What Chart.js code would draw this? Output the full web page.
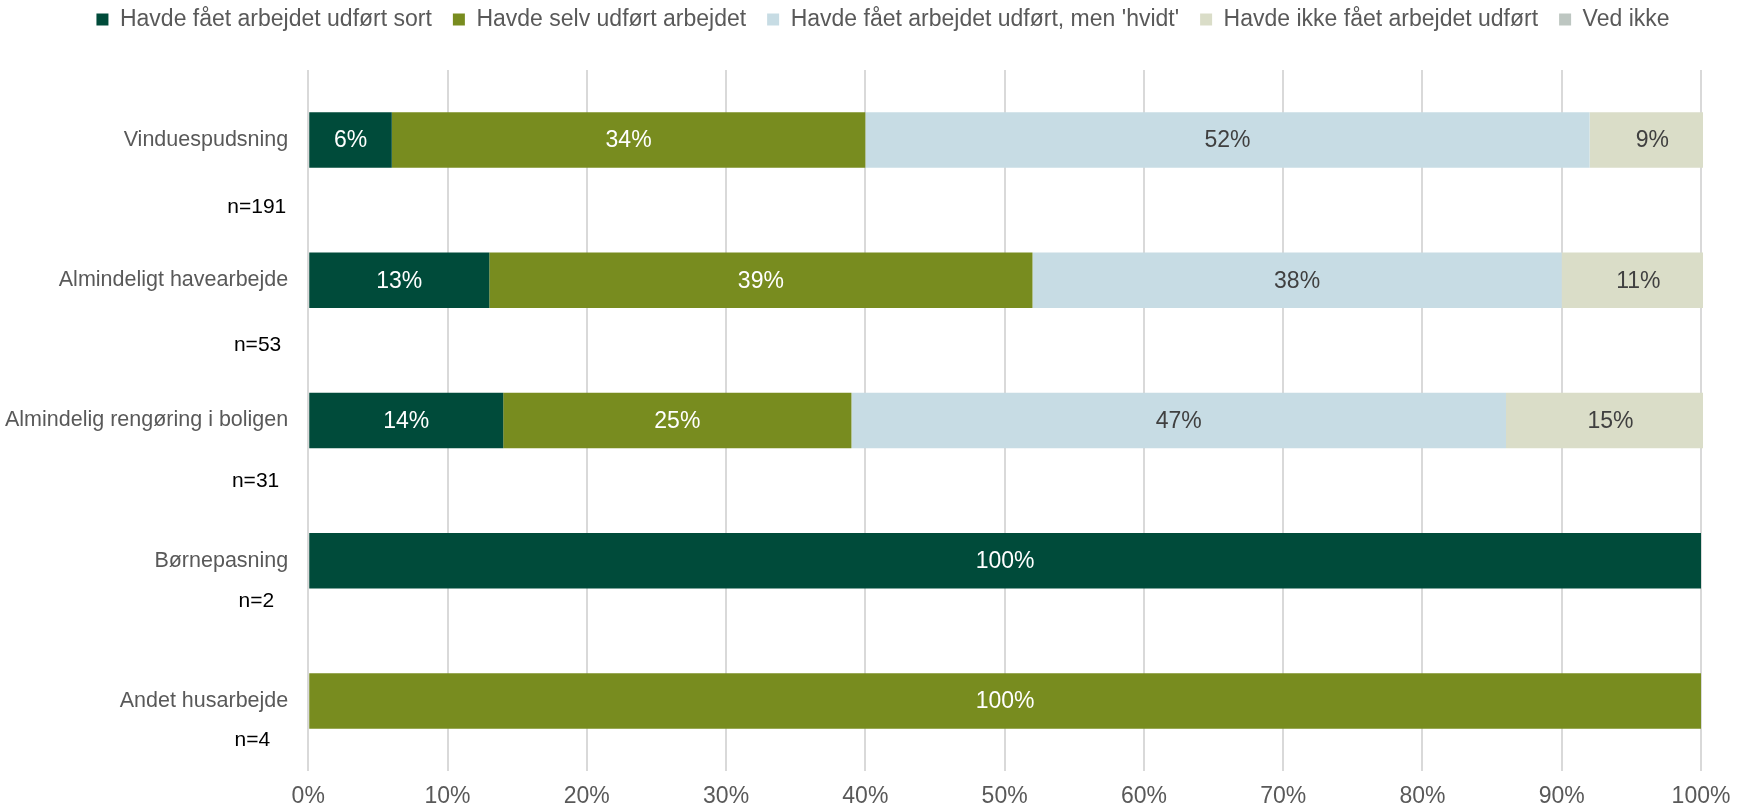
<!DOCTYPE html>
<html>
<head>
<meta charset="utf-8">
<script src="https://cdn.jsdelivr.net/npm/chart.js@4.4.1/dist/chart.umd.min.js"></script>
<style>
  html, body { margin: 0; padding: 0; background: #fff; }
  #wrap { width: 1750px; height: 804px; }
</style>
</head>
<body>
<div id="wrap"><canvas id="chart" width="1750" height="804"></canvas></div>
<script>
// Kategorier og data (procent)
const kategorier = ['Vinduespudsning', 'Almindeligt havearbejde', 'Almindelig rengøring i boligen', 'Børnepasning', 'Andet husarbejde'];
const antal = ['n=191', 'n=53', 'n=31', 'n=2', 'n=4'];

const sort = [6, 13, 14, 100, 0];
const selv = [34, 39, 25, 0, 100];
const hvidt = [52, 38, 47, 0, 0];
const ikkeUdfoert = [9, 11, 15, 0, 0];
const vedIkke = [0, 0, 0, 0, 0];

const xTicks = [0, 10, 20, 30, 40, 50, 60, 70, 80, 90, 100];

const FONT = '"Liberation Sans", Arial, sans-serif';

// placering af n= teksterne (andel af kategoriafstand, afstand fra akse)
const nPlacering = [[0.48, 22], [0.46, 27], [0.43, 29], [0.29, 34], [0.28, 38]];

// Tegner procenttal midt i hvert segment
const dataLabels = {
    id: 'dataLabels',
    afterDatasetsDraw(chart) {
        const ctx = chart.ctx;
        ctx.save();
        ctx.font = '23px ' + FONT;
        ctx.textAlign = 'center';
        ctx.textBaseline = 'middle';
        chart.data.datasets.forEach((ds, i) => {
            const meta = chart.getDatasetMeta(i);
            meta.data.forEach((bar, j) => {
                const v = ds.data[j];
                if (!v) return;
                const x = (bar.x + bar.base) / 2;
                ctx.fillStyle = ds.labelColor;
                ctx.fillText(v + '%', x, bar.y + 1);
            });
        });
        ctx.restore();
    }
};

// Tegner n= under kategorinavnene
const nLabels = {
    id: 'nLabels',
    afterDraw(chart) {
        const ctx = chart.ctx;
        const y = chart.scales.y;
        const step = y.getPixelForValue(1) - y.getPixelForValue(0);
        ctx.save();
        ctx.font = '21px ' + FONT;
        ctx.fillStyle = '#000000';
        ctx.textAlign = 'right';
        ctx.textBaseline = 'middle';
        antal.forEach((t, i) => {
            const p = nPlacering[i];
            ctx.fillText(t, chart.chartArea.left - p[1], y.getPixelForValue(i) + p[0] * step);
        });
        ctx.restore();
    }
};

// Ekstra luft under forklaringen, og forklaringen flyttet lidt til højre
const legendSpace = {
    id: 'legendSpace',
    beforeInit(chart) {
        const fit = chart.legend.fit;
        chart.legend.fit = function () {
            fit.bind(chart.legend)();
            this.height = 83;
        };
    },
    afterLayout(chart) {
        chart.legend.left += 40;
        chart.legend.right += 40;
    }
};

const ctx = document.getElementById('chart').getContext('2d');
new Chart(ctx, {
    type: 'bar',
    data: {
        labels: kategorier,
        datasets: [
            { label: 'Havde fået arbejdet udført sort', data: sort, backgroundColor: '#004B3A', labelColor: '#ffffff' },
            { label: 'Havde selv udført arbejdet', data: selv, backgroundColor: '#788C1F', labelColor: '#ffffff' },
            { label: "Havde fået arbejdet udført, men 'hvidt'", data: hvidt, backgroundColor: '#C7DCE4', labelColor: '#404040' },
            { label: 'Havde ikke fået arbejdet udført', data: ikkeUdfoert, backgroundColor: '#DADDC8', labelColor: '#404040' },
            { label: 'Ved ikke', data: vedIkke, backgroundColor: '#BDC6C1', labelColor: '#404040' }
        ]
    },
    options: {
        indexAxis: 'y',
        responsive: false,
        animation: false,
        barPercentage: 0.8,
        categoryPercentage: 0.495,
        clip: { left: 0, top: false, right: 2, bottom: false },
        layout: { padding: { left: -15, right: 49, top: -13, bottom: -24 } },
        plugins: {
            legend: {
                position: 'top',
                labels: {
                    boxWidth: 12,
                    boxHeight: 12,
                    padding: 21,
                    color: '#595959',
                    font: { family: FONT, size: 23 }
                }
            },
            tooltip: { enabled: false }
        },
        scales: {
            x: {
                stacked: true,
                min: 0,
                max: 100,
                afterBuildTicks: function (axis) {
                    axis.ticks = xTicks.map(v => ({ value: v }));
                },
                grid: { color: '#D9D9D9', lineWidth: 2, drawTicks: false },
                border: { display: false },
                ticks: {
                    padding: 12,
                    color: '#595959',
                    font: { family: FONT, size: 23 },
                    callback: function (value) {
                        return value + '%';
                    }
                }
            },
            y: {
                stacked: true,
                grid: { display: false, drawTicks: false },
                border: { display: false },
                ticks: {
                    padding: 20,
                    color: '#595959',
                    font: { family: FONT, size: 21.5 }
                }
            }
        }
    },
    plugins: [dataLabels, nLabels, legendSpace]
});
</script>
</body>
</html>
